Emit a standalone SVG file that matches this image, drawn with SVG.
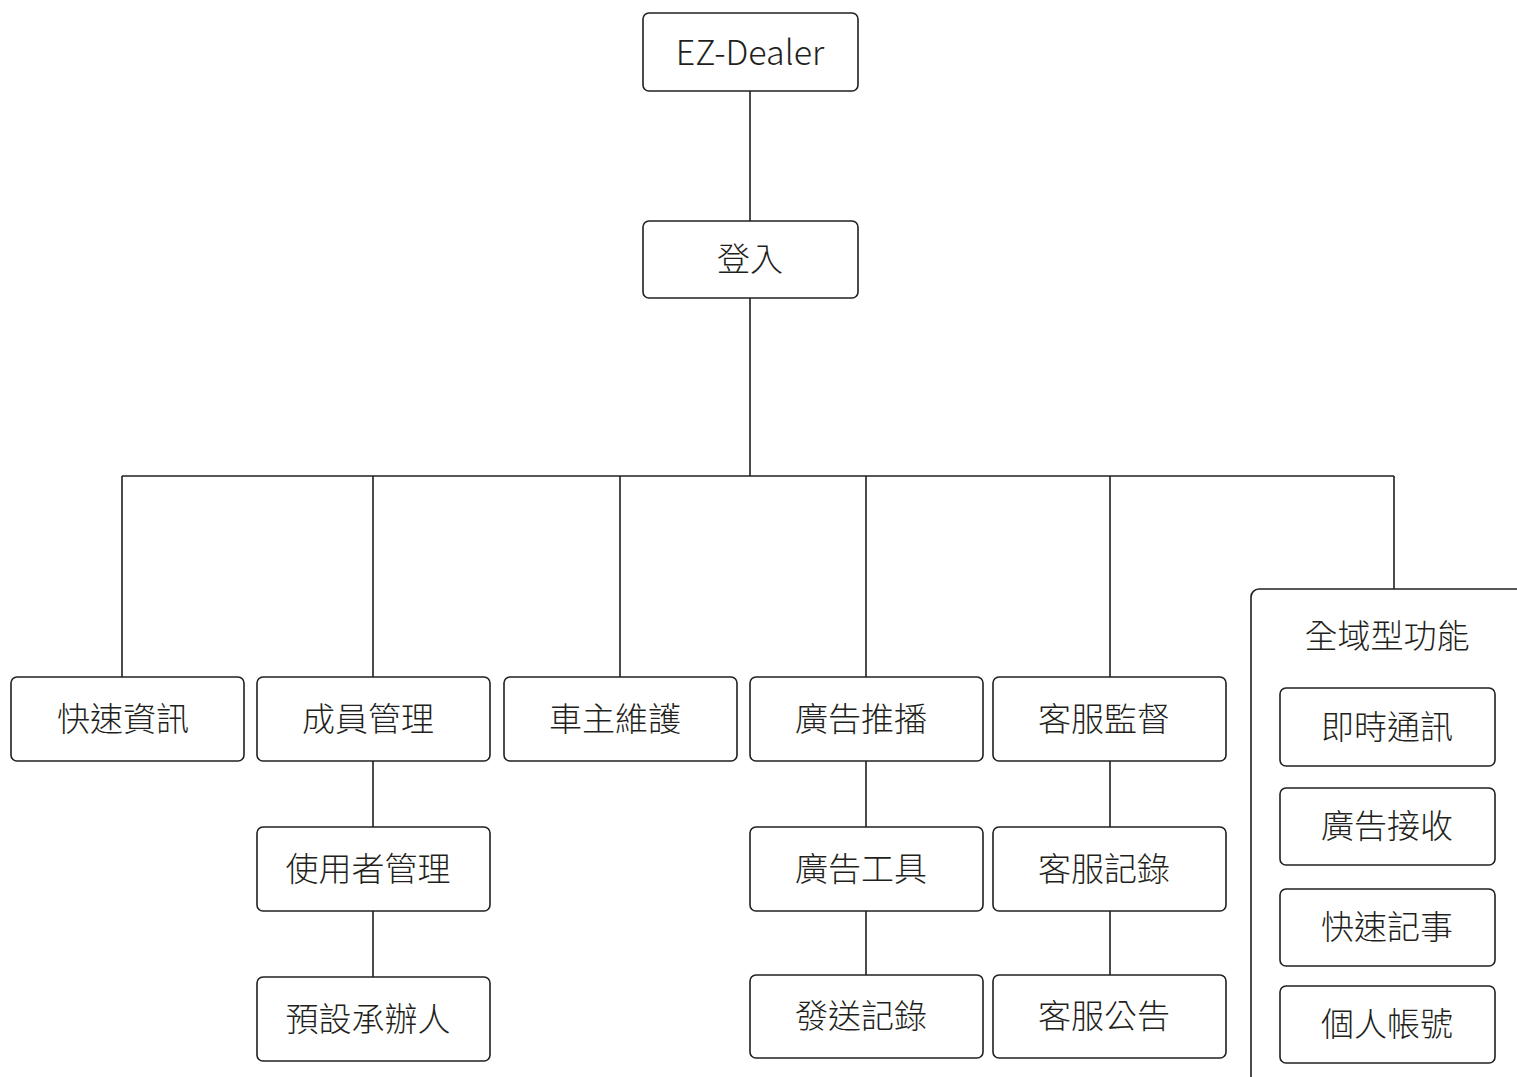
<svg xmlns="http://www.w3.org/2000/svg" width="1517" height="1077" viewBox="0 0 1517 1077">
<style>
.n{fill:#fff;stroke:#231f20;stroke-width:1.6}
.t{font-family:"Noto Sans CJK TC","Noto Sans",sans-serif;font-size:33px;font-weight:300;fill:#231f20;text-anchor:middle;dominant-baseline:central}
.c{stroke:#231f20;stroke-width:1.6;fill:none}
</style>
<rect width="1517" height="1077" fill="#fff"/>
<g id="connectors">
<path class="c" d="M750 91V221M750 298V476M122 476H1394M122 476V677M373 476V677M620 476V677M866 476V677M1110 476V677M1394 476V589"/>
<path class="c" d="M373 761V827M373 911V977M866 761V827M866 911V975M1110 761V827M1110 911V975"/>
</g>
<g id="n-ezdealer"><rect class="n" x="643" y="13" width="215" height="78" rx="6"/><text class="t" x="750" y="50" style="font-size:34px">EZ-Dealer</text></g>
<g id="n-login"><rect class="n" x="643" y="221" width="215" height="77" rx="6"/><text class="t" x="750" y="257">登入</text></g>
<g id="n-quickinfo"><rect class="n" x="11" y="677" width="233" height="84" rx="6"/><text class="t" x="123" y="717">快速資訊</text></g>
<g id="n-member"><rect class="n" x="257" y="677" width="233" height="84" rx="6"/><text class="t" x="368" y="717">成員管理</text></g>
<g id="n-owner"><rect class="n" x="504" y="677" width="233" height="84" rx="6"/><text class="t" x="615" y="717">車主維護</text></g>
<g id="n-adpush"><rect class="n" x="750" y="677" width="233" height="84" rx="6"/><text class="t" x="861" y="717">廣告推播</text></g>
<g id="n-cs"><rect class="n" x="993" y="677" width="233" height="84" rx="6"/><text class="t" x="1104" y="717">客服監督</text></g>
<g id="n-user"><rect class="n" x="257" y="827" width="233" height="84" rx="6"/><text class="t" x="368" y="867">使用者管理</text></g>
<g id="n-default"><rect class="n" x="257" y="977" width="233" height="84" rx="6"/><text class="t" x="368" y="1017">預設承辦人</text></g>
<g id="n-adtool"><rect class="n" x="750" y="827" width="233" height="84" rx="6"/><text class="t" x="861" y="867">廣告工具</text></g>
<g id="n-sendlog"><rect class="n" x="750" y="975" width="233" height="83" rx="6"/><text class="t" x="861" y="1014">發送記錄</text></g>
<g id="n-cslog"><rect class="n" x="993" y="827" width="233" height="84" rx="6"/><text class="t" x="1104" y="867">客服記錄</text></g>
<g id="n-csnotice"><rect class="n" x="993" y="975" width="233" height="83" rx="6"/><text class="t" x="1104" y="1014">客服公告</text></g>
<g id="n-global"><rect class="n" x="1251" y="589" width="300" height="496" rx="8"/><text class="t" x="1387" y="634">全域型功能</text></g>
<g id="n-im"><rect class="n" x="1280" y="688" width="215" height="78" rx="6"/><text class="t" x="1387" y="725">即時通訊</text></g>
<g id="n-adrecv"><rect class="n" x="1280" y="788" width="215" height="77" rx="6"/><text class="t" x="1387" y="824">廣告接收</text></g>
<g id="n-note"><rect class="n" x="1280" y="889" width="215" height="77" rx="6"/><text class="t" x="1387" y="925">快速記事</text></g>
<g id="n-account"><rect class="n" x="1280" y="986" width="215" height="77" rx="6"/><text class="t" x="1387" y="1022">個人帳號</text></g>
</svg>
